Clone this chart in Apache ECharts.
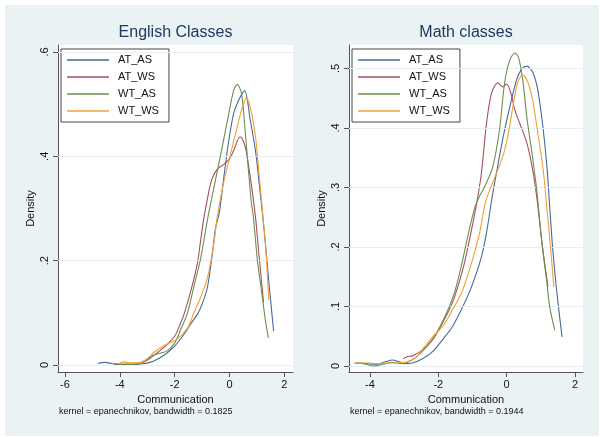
<!DOCTYPE html>
<html>
<head>
<meta charset="utf-8">
<script src="https://cdn.jsdelivr.net/npm/echarts@6/dist/echarts.min.js"></script>
<style>
html,body{margin:0;padding:0;background:#ffffff;}
#bg{position:absolute;left:5px;top:5px;width:594px;height:431px;background:#eaf2f3;}
#chart{position:absolute;left:0;top:0;width:600px;height:437px;}
</style>
</head>
<body>
<div id="bg"></div>
<div id="chart"></div>
<script>
// ---- Data ----
const panelTitles = ["English Classes", "Math classes"];
const footnotes = ["kernel = epanechnikov, bandwidth = 0.1825", "kernel = epanechnikov, bandwidth = 0.1944"];
const seriesNames = ["AT_AS", "AT_WS", "WT_AS", "WT_WS"];
const xTicksEng = [-6, -4, -2, 0, 2];
const yTicksEng = [0, 0.2, 0.4, 0.6];
const xTicksMath = [-4, -2, 0, 2];
const yTicksMath = [0, 0.1, 0.2, 0.3, 0.4, 0.5];

const engAT_AS = [[-4.8,0.003],[-4.55,0.005],[-4.3,0.003],[-4.0,0.0],[-3.6,0.0],[-3.25,0.002],[-2.9,0.005],[-2.6,0.012],[-2.3,0.022],[-2.0,0.036],[-1.67,0.058],[-1.42,0.078],[-1.16,0.098],[-0.98,0.119],[-0.8,0.15],[-0.62,0.215],[-0.51,0.262],[-0.37,0.292],[-0.22,0.354],[-0.04,0.425],[0.15,0.482],[0.33,0.507],[0.55,0.526],[0.76,0.469],[0.95,0.41],[1.1,0.34],[1.2,0.292],[1.31,0.233],[1.42,0.168],[1.61,0.065]];
const engAT_WS = [[-4.2,0.002],[-3.9,0.002],[-3.5,0.002],[-3.2,0.004],[-2.9,0.013],[-2.6,0.025],[-2.3,0.038],[-2.0,0.055],[-1.8,0.078],[-1.66,0.097],[-1.42,0.14],[-1.17,0.195],[-1.05,0.24],[-0.94,0.28],[-0.8,0.32],[-0.65,0.355],[-0.45,0.375],[-0.2,0.385],[0.0,0.395],[0.15,0.411],[0.38,0.437],[0.45,0.435],[0.58,0.417],[0.76,0.36],[0.95,0.283],[1.06,0.22],[1.2,0.143],[1.24,0.12]];
const engWT_AS = [[-4.2,0.002],[-3.8,0.001],[-3.4,0.002],[-3.1,0.008],[-2.8,0.018],[-2.5,0.023],[-2.27,0.027],[-2.0,0.042],[-1.78,0.068],[-1.53,0.1],[-1.3,0.15],[-1.05,0.205],[-0.78,0.285],[-0.45,0.37],[-0.22,0.43],[-0.04,0.478],[0.15,0.526],[0.28,0.538],[0.44,0.52],[0.55,0.463],[0.67,0.387],[0.8,0.31],[0.87,0.285],[1.02,0.2],[1.2,0.13],[1.31,0.086],[1.42,0.052]];
const engWT_WS = [[-4.0,0.004],[-3.85,0.006],[-3.6,0.004],[-3.24,0.004],[-3.0,0.012],[-2.76,0.024],[-2.4,0.037],[-1.96,0.048],[-1.53,0.071],[-1.3,0.1],[-1.05,0.13],[-0.8,0.168],[-0.57,0.233],[-0.45,0.283],[-0.22,0.348],[0.04,0.405],[0.28,0.456],[0.47,0.494],[0.62,0.511],[0.76,0.494],[0.95,0.437],[1.09,0.36],[1.2,0.297],[1.33,0.22],[1.43,0.124]];

const mathAT_AS = [[-4.4,0.005],[-4.1,0.004],[-3.8,0.003],[-3.55,0.007],[-3.35,0.01],[-3.15,0.007],[-3.0,0.004],[-2.76,0.005],[-2.46,0.012],[-2.17,0.024],[-1.88,0.044],[-1.59,0.066],[-1.29,0.099],[-1.03,0.133],[-0.74,0.183],[-0.59,0.224],[-0.44,0.279],[-0.3,0.324],[-0.12,0.38],[0.09,0.435],[0.29,0.481],[0.44,0.499],[0.59,0.504],[0.76,0.494],[0.91,0.464],[1.06,0.402],[1.18,0.334],[1.26,0.267],[1.35,0.195],[1.47,0.123],[1.62,0.049]];
const mathAT_WS = [[-3.03,0.012],[-2.9,0.016],[-2.76,0.017],[-2.46,0.027],[-2.17,0.044],[-1.88,0.072],[-1.59,0.106],[-1.29,0.161],[-1.09,0.212],[-0.88,0.273],[-0.74,0.324],[-0.59,0.408],[-0.44,0.459],[-0.26,0.476],[-0.12,0.469],[0.0,0.474],[0.12,0.459],[0.24,0.43],[0.38,0.408],[0.59,0.375],[0.76,0.33],[0.88,0.284],[1.05,0.2],[1.21,0.133]];
const mathWT_AS = [[-4.47,0.005],[-4.2,0.004],[-3.88,0.0],[-3.6,0.003],[-3.35,0.006],[-3.1,0.004],[-2.94,0.005],[-2.65,0.015],[-2.35,0.032],[-2.06,0.055],[-1.76,0.089],[-1.53,0.123],[-1.32,0.17],[-1.15,0.215],[-0.94,0.265],[-0.8,0.285],[-0.65,0.301],[-0.41,0.334],[-0.21,0.397],[-0.06,0.476],[0.09,0.514],[0.24,0.526],[0.35,0.518],[0.47,0.481],[0.59,0.418],[0.74,0.358],[0.88,0.296],[1.03,0.207],[1.18,0.139],[1.26,0.099],[1.41,0.06]];
const mathWT_WS = [[-4.4,0.005],[-4.1,0.005],[-3.8,0.004],[-3.5,0.005],[-3.2,0.005],[-2.91,0.007],[-2.65,0.015],[-2.41,0.032],[-2.17,0.049],[-1.88,0.066],[-1.59,0.094],[-1.32,0.123],[-1.03,0.173],[-0.79,0.224],[-0.62,0.275],[-0.41,0.308],[-0.12,0.351],[0.03,0.385],[0.18,0.435],[0.32,0.476],[0.47,0.489],[0.62,0.477],[0.76,0.447],[0.91,0.392],[1.06,0.334],[1.17,0.27],[1.29,0.195],[1.38,0.133]];

const colors = ["#46699c", "#a94f5b", "#6b8f4d", "#f2a035"];

// ---- Chart ----
const chart = echarts.init(document.getElementById('chart'), null, {renderer: 'canvas'});
const FONT = 'Liberation Sans, Arial, sans-serif';
const fmt = v => {
  if (v === 0) return '0';
  let s = String(+v.toFixed(2));
  return s.replace(/^0\./, '.').replace(/^-0\./, '-.');
};

function xAxisCfg(idx, min, max, ticks) {
  return {
    type: 'value', gridIndex: idx, min: min, max: max,
    name: 'Communication', nameLocation: 'middle', nameGap: 19,
    nameTextStyle: {fontFamily: FONT, fontSize: 11, color: '#111'},
    axisLine: {show: true, onZero: false, lineStyle: {color: '#555', width: 1}},
    axisTick: {show: true, length: 5, customValues: ticks, lineStyle: {color: '#555'}},
    axisLabel: {customValues: ticks, margin: 7, fontFamily: FONT, fontSize: 11, color: '#111', formatter: v => String(v)},
    splitLine: {show: false}
  };
}
function yAxisCfg(idx, min, max, ticks) {
  return {
    type: 'value', gridIndex: idx, min: min, max: max,
    name: 'Density', nameLocation: 'middle', nameGap: 22,
    nameTextStyle: {fontFamily: FONT, fontSize: 11, color: '#111'},
    axisLine: {show: true, onZero: false, lineStyle: {color: '#555', width: 1}},
    axisTick: {show: true, length: 5, customValues: ticks, lineStyle: {color: '#555'}},
    axisLabel: {customValues: ticks, rotate: 90, margin: 8, fontFamily: FONT, fontSize: 11, color: '#111', formatter: fmt},
    splitLine: {show: false}
  };
}

const engData = [engAT_AS, engAT_WS, engWT_AS, engWT_WS];
const mathData = [mathAT_AS, mathAT_WS, mathWT_AS, mathWT_WS];
const series = [];
[engData, mathData].forEach((set, p) => {
  const yt = p === 0 ? yTicksEng : yTicksMath;
  set.forEach((d, i) => {
    const s = {
      name: seriesNames[i], type: 'line', xAxisIndex: p, yAxisIndex: p,
      data: d, smooth: 0.3, showSymbol: false, symbol: 'none',
      lineStyle: {color: colors[i], width: 1.1}, itemStyle: {color: colors[i]},
      z: 3 + i, silent: true, animation: false
    };
    if (i === 0) {
      s.markLine = {
        silent: true, symbol: 'none', animation: false,
        label: {show: false},
        lineStyle: {color: '#e6eff1', type: 'solid', width: 1},
        data: yt.map(v => ({yAxis: v}))
      };
    }
    series.push(s);
  });
});

function legendCfg(left) {
  return {
    left: left, top: 49, orient: 'vertical',
    data: seriesNames, selectedMode: false,
    icon: 'rect', itemWidth: 42, itemHeight: 1.3, itemGap: 3,
    padding: [4, 10, 4, 6],
    backgroundColor: '#ffffff', borderColor: '#444', borderWidth: 1, borderRadius: 0,
    textStyle: {fontFamily: FONT, fontSize: 11, color: '#111', lineHeight: 14, padding: [0, 0, 0, 4]}
  };
}

const option = {
  animation: false,
  backgroundColor: 'transparent',
  title: [
    {text: panelTitles[0], left: 175.5, top: 24, textAlign: 'center', padding: 0,
     textStyle: {fontFamily: FONT, fontSize: 16, fontWeight: 'normal', color: '#1f3a60', lineHeight: 18}},
    {text: panelTitles[1], left: 466, top: 24, textAlign: 'center', padding: 0,
     textStyle: {fontFamily: FONT, fontSize: 16, fontWeight: 'normal', color: '#1f3a60', lineHeight: 18}}
  ],
  legend: [legendCfg(61), legendCfg(352)],
  grid: [
    {left: 58, top: 45, width: 235, height: 327, show: true, backgroundColor: '#ffffff', borderWidth: 0, containLabel: false},
    {left: 349, top: 45, width: 234, height: 327, show: true, backgroundColor: '#ffffff', borderWidth: 0, containLabel: false}
  ],
  xAxis: [xAxisCfg(0, -6.255, 2.317, xTicksEng), xAxisCfg(1, -4.615, 2.234, xTicksMath)],
  yAxis: [yAxisCfg(0, -0.0134, 0.6134, yTicksEng), yAxisCfg(1, -0.0101, 0.5395, yTicksMath)],
  graphic: [
    {type: 'text', left: 59, top: 407, style: {text: footnotes[0], fontFamily: FONT, fontSize: 9, fill: '#111'}},
    {type: 'text', left: 350, top: 407, style: {text: footnotes[1], fontFamily: FONT, fontSize: 9, fill: '#111'}}
  ],
  series: series
};
chart.setOption(option);
</script>
</body>
</html>
